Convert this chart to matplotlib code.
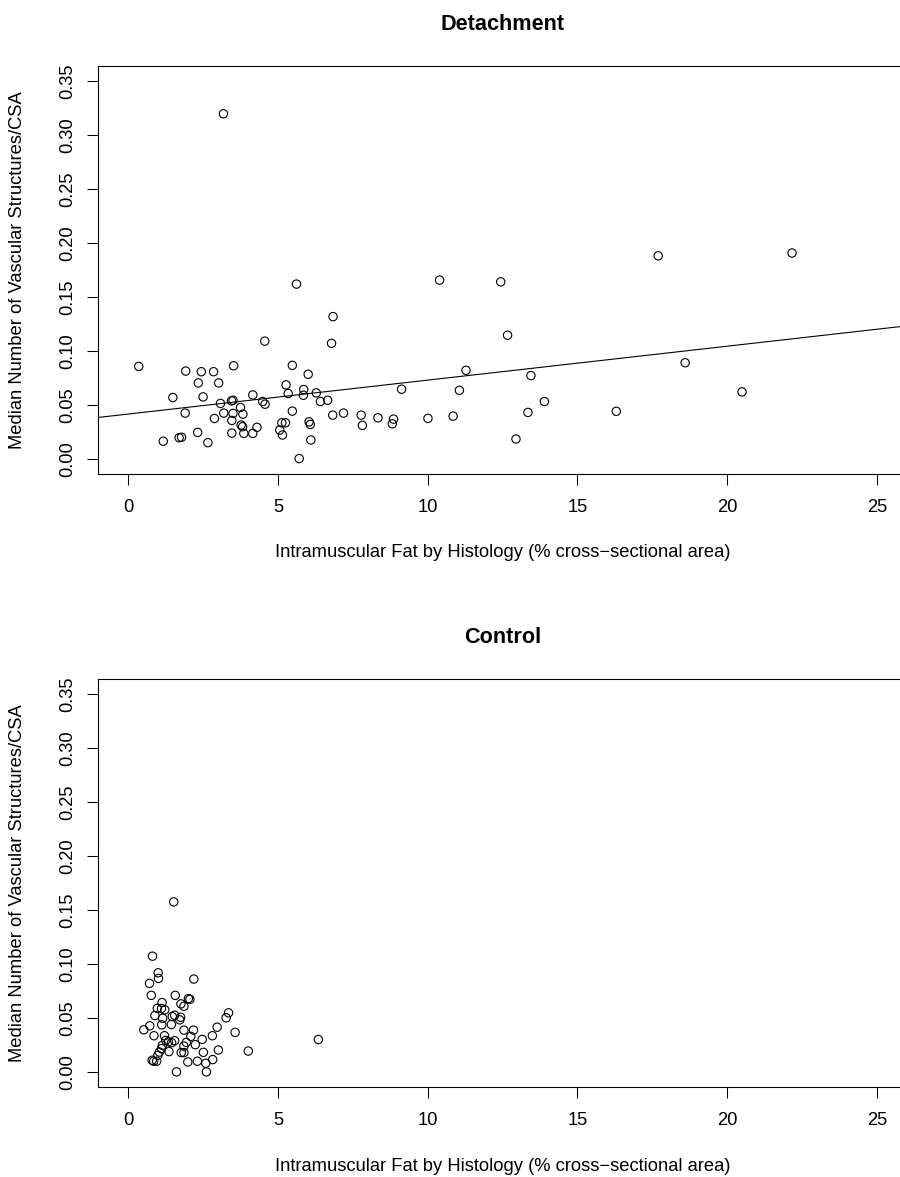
import matplotlib
matplotlib.use("Agg")
import matplotlib.pyplot as plt
import numpy as np

plt.rcParams['font.family'] = ['Liberation Sans', 'DejaVu Sans']

# ---------------- data ----------------
det_x = [0.35, 1.92, 2.44, 2.85, 3.52, 2.34, 3.02, 1.49, 2.50, 3.45, 3.50, 3.08, 4.16, 4.49,
         4.57, 3.75, 1.90, 3.19, 3.50, 3.83, 2.88, 3.46, 3.77, 3.82, 4.30, 3.46, 3.86, 4.16,
         2.32, 1.17, 1.70, 1.78, 2.66, 5.48, 6.01, 5.27, 5.34, 5.86, 5.85, 6.28, 6.42, 6.66,
         5.48, 6.83, 7.19, 7.78, 7.82, 8.34, 5.13, 5.25, 5.06, 5.15, 6.04, 6.08, 6.10, 5.71,
         4.56, 6.79, 5.62, 10.40, 6.84, 9.13, 11.06, 11.28, 8.86, 8.82, 10.01, 10.85, 12.44,
         12.67, 13.45, 13.90, 13.35, 12.95, 17.70, 22.17, 18.60, 20.50, 16.30, 3.18]
det_y = [0.0856, 0.0813, 0.0807, 0.0807, 0.0862, 0.0703, 0.0703, 0.0568, 0.0574, 0.0537,
         0.0543, 0.0513, 0.0592, 0.0531, 0.0506, 0.0476, 0.0424, 0.0424, 0.0421, 0.0414,
         0.0374, 0.0356, 0.0313, 0.0298, 0.0292, 0.0239, 0.0236, 0.0236, 0.0245, 0.0163,
         0.0196, 0.0200, 0.0150, 0.0866, 0.0783, 0.0685, 0.0605, 0.0642, 0.0589, 0.0611,
         0.0531, 0.0543, 0.0442, 0.0405, 0.0424, 0.0405, 0.0310, 0.0380, 0.0334, 0.0334,
         0.0267, 0.0221, 0.0343, 0.0319, 0.0175, 0.0003, 0.1090, 0.1070, 0.1618, 0.1655,
         0.1317, 0.0645, 0.0635, 0.0820, 0.0368, 0.0325, 0.0375, 0.0396, 0.1639, 0.1145,
         0.0771, 0.0531, 0.0430, 0.0184, 0.1880, 0.1906, 0.0890, 0.0620, 0.0440, 0.3195]
det_fit_intercept = 0.0415
det_fit_slope = 0.00314

ctl_x = [1.52, 0.81, 1.00, 1.01, 0.71, 2.19, 0.77, 1.57, 2.01, 2.06, 1.76, 1.86, 1.13,
         0.97, 1.11, 1.22, 0.89, 1.15, 1.47, 1.55, 1.75, 1.72, 1.12, 1.44, 0.72, 0.52,
         1.86, 2.18, 0.86, 1.21, 2.09, 2.47, 2.97, 2.81, 3.27, 3.35, 3.57, 4.01, 1.25,
         1.34, 1.45, 1.55, 1.14, 1.11, 1.04, 0.99, 1.36, 1.94, 1.86, 1.77, 1.86, 2.24,
         2.51, 3.01, 0.80, 0.85, 0.95, 1.99, 2.31, 2.59, 2.82, 1.61, 2.61, 6.35]
ctl_y = [0.1575, 0.1072, 0.0918, 0.0866, 0.0820, 0.0860, 0.0709, 0.0709, 0.0679, 0.0672,
         0.0630, 0.0608, 0.0642, 0.0589, 0.0587, 0.0575, 0.0522, 0.0497, 0.0513, 0.0525,
         0.0506, 0.0482, 0.0436, 0.0439, 0.0427, 0.0390, 0.0387, 0.0387, 0.0335, 0.0335,
         0.0329, 0.0301, 0.0414, 0.0335, 0.0501, 0.0547, 0.0366, 0.0193, 0.0292, 0.0280,
         0.0271, 0.0289, 0.0246, 0.0215, 0.0184, 0.0154, 0.0188, 0.0273, 0.0239, 0.0179,
         0.0179, 0.0252, 0.0181, 0.0203, 0.0108, 0.0099, 0.0099, 0.0092, 0.0099, 0.0080,
         0.0114, 0.0000, 0.0000, 0.0300]

x_ticks = [0, 5, 10, 15, 20, 25]
y_ticks = [0.00, 0.05, 0.10, 0.15, 0.20, 0.25, 0.30, 0.35]
titles = ["Detachment", "Control"]
xlabel = "Intramuscular Fat by Histology (% cross\u2212sectional area)"
ylabel = "Median Number of Vascular Structures/CSA"

# ---------------- figure ----------------
W, H = 900, 1177
fig = plt.figure(figsize=(W / 100, H / 100), dpi=100)

def px_box(left, top, right, bottom):
    return [left / W, 1 - bottom / H, (right - left) / W, (bottom - top) / H]

panels = [
    dict(box=(98.3, 65.7, 906.7, 474.0), x=det_x, y=det_y, fit=True),
    dict(box=(98.3, 679.0, 906.7, 1087.0), x=ctl_x, y=ctl_y, fit=False),
]

FS = 13.2
for i, p in enumerate(panels):
    left, top, right, bottom = p['box']
    ax = fig.add_axes(px_box(left, top, right, bottom))
    ax.scatter(p['x'], p['y'], s=36, facecolors='none', edgecolors='black',
               linewidths=0.8, zorder=3, clip_on=True)
    ax.set_xlim(-1.0, 26.0)
    ax.set_ylim(-0.014, 0.364)
    if p['fit']:
        ax.axline((0, det_fit_intercept), slope=det_fit_slope, color='black', lw=0.8)
    ax.set_xticks(x_ticks)
    ax.set_xticklabels([str(t) for t in x_ticks], fontsize=FS)
    ax.set_yticks(y_ticks)
    ax.set_yticklabels(["%.2f" % t for t in y_ticks], fontsize=FS,
                       rotation=90, va='center')
    ax.tick_params(axis='both', direction='out', length=8, width=0.75, color='black')
    ax.tick_params(axis='x', pad=10)
    ax.tick_params(axis='y', pad=8)
    for s in ax.spines.values():
        s.set_linewidth(0.8)
        s.set_color('black')
    ax.spines['right'].set_visible(False)
    cx = (left + right) / 2 / W
    fig.text(cx, 1 - (24 + 613.3 * i) / H, titles[i], ha='center', va='center',
             fontsize=15.6, fontweight='bold')
    fig.text(cx, 1 - (553 + 613.3 * i) / H, xlabel, ha='center', va='center', fontsize=FS)
    fig.text(18 / W, 1 - ((top + bottom) / 2) / H, ylabel, ha='center', va='center',
             fontsize=FS, rotation=90)

fig.savefig("out.png", dpi=100)
